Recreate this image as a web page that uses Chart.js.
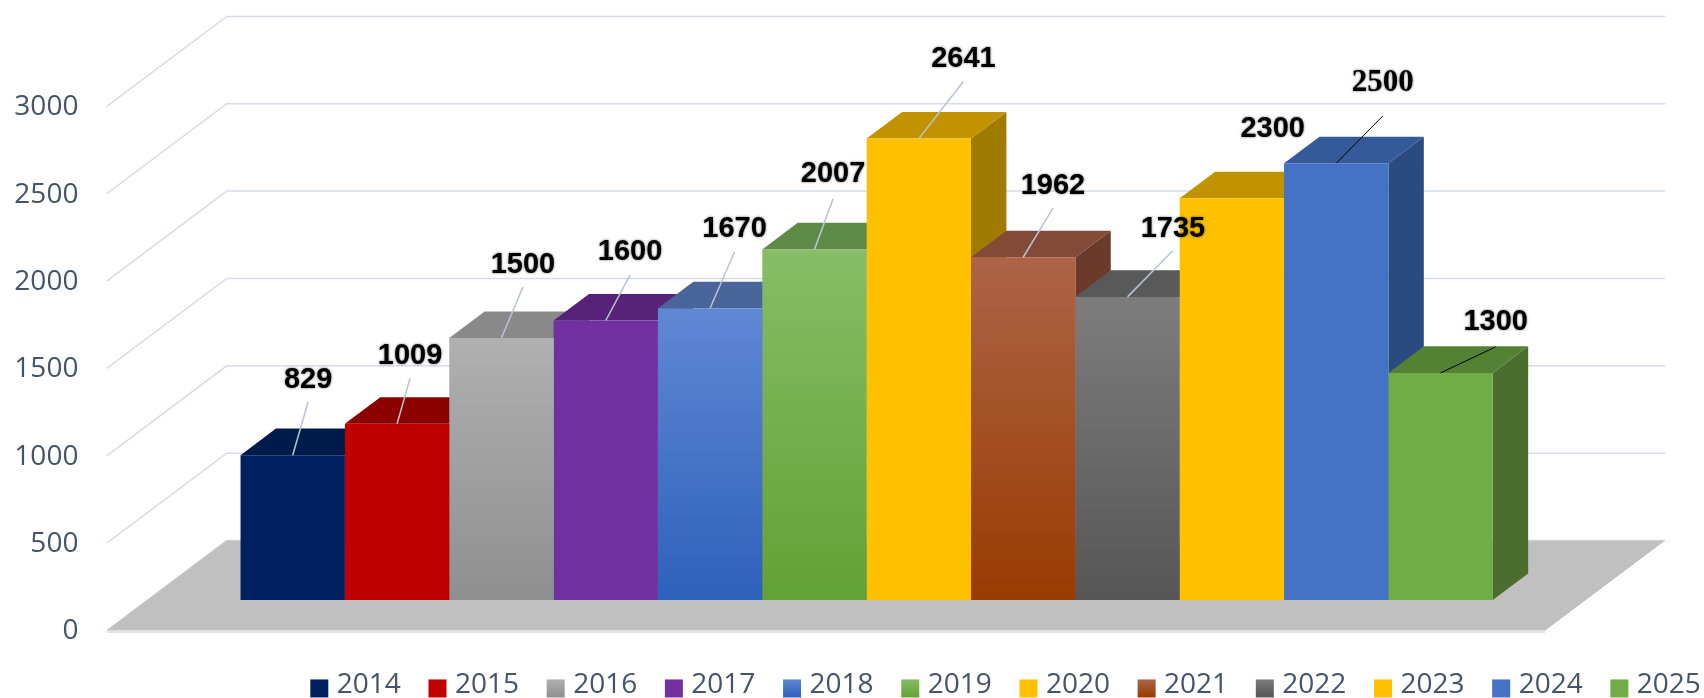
<!DOCTYPE html>
<html>
<head>
<meta charset="utf-8">
<script src="https://cdn.jsdelivr.net/npm/chart.js@4/dist/chart.umd.min.js"></script>
<style>
html,body{margin:0;padding:0;background:#ffffff;}
#wrap{width:1704px;height:698px;position:relative;}
</style>
</head>
<body>
<div id="wrap"><canvas id="c"></canvas></div>
<script>
// ---- data ----
const years  = ['2014','2015','2016','2017','2018','2019','2020','2021','2022','2023','2024','2025'];
const values = [829, 1009, 1500, 1600, 1670, 2007, 2641, 1962, 1735, 2300, 2500, 1300];
const yTicks = [0, 500, 1000, 1500, 2000, 2500, 3000];

// ---- styles ----
const frontTop    = ['#002060','#c00000','#b0b0b0','#7030a0','#5f88d4','#87bd67','#ffc000','#ae6447','#7d7d7d','#ffc000','#4472c4','#70ad47'];
const frontBottom = ['#002060','#c00000','#8f8f8f','#7030a0','#2e61ba','#61a233','#ffc000','#983c00','#565656','#ffc000','#4472c4','#70ad47'];
const topFace     = ['#001a4c','#8c0000','#898989','#572379','#4a6599','#5e8a47','#c29300','#834a38','#595959','#c29300','#355a9a','#548235'];
const sideFace    = ['#00153d','#760000','#777777','#4a1e67','#3d5585','#4e7a3a','#a07b00','#6b3a2a','#474747','#a07b00','#2b4a80','#4a6e2e'];

// label placement relative to top-front centre of each bar
const labelDX  = [15.4, 13, 21.5, 24.3, 24.5, 18.6, 44.6, 29.8, 45.4, 40.8, 46.5, 55.1];
const labelDY  = [-75.6, -67.8, -73, -68.4, -79.2, -75.5, -79.6, -71.4, -67.8, -69.5, -80.4, -51];
const leaderDY = [-53.5, -45.5, -50.8, -45.6, -56.7, -50.5, -57.1, -49.1, -46.3, null, -47.2, -26];
const leaderColor = ['#b8c4d4','#b8c4d4','#b8c4d4','#b8c4d4','#b8c4d4','#b8c4d4','#b8c4d4','#b8c4d4','#b8c4d4','#b8c4d4','#000000','#000000'];
const sansBold = 'bold 29px "Liberation Sans", Arial, sans-serif';
const serifBold = 'bold 31px "Liberation Serif", "Times New Roman", serif';
const labelFont = [sansBold,sansBold,sansBold,sansBold,sansBold,sansBold,sansBold,sansBold,sansBold,sansBold,serifBold,sansBold];

const AXIS_COLOR = '#44546a';
const GRID_COLOR = '#d6dce5';
const FLOOR_COLOR = '#c0c0c0';
const FLOOR_DX = 120, FLOOR_DY = -90;   // floor depth vector
const BAR_FRONT = 0.339;                 // bar front plane (fraction of floor depth)
const BAR_DEPTH = 0.295;                 // bar depth (fraction of floor depth)

function poly(ctx, pts) {
  ctx.beginPath();
  ctx.moveTo(pts[0][0], pts[0][1]);
  for (let k = 1; k < pts.length; k++) ctx.lineTo(pts[k][0], pts[k][1]);
  ctx.closePath();
  ctx.fill();
}

const threeD = {
  id: 'threeD',
  beforeDatasetsDraw(chart) {
    const {ctx, chartArea: ca, scales: {y}} = chart;
    const offX = FLOOR_DX * BAR_FRONT, offY = FLOOR_DY * BAR_FRONT;
    const fx = ca.left - offX;
    const fw = ca.right - ca.left;
    ctx.save();
    // wall gridlines
    ctx.strokeStyle = GRID_COLOR;
    ctx.lineWidth = 1.5;
    y.ticks.forEach(t => {
      const fy = y.getPixelForValue(t.value) - offY;
      ctx.beginPath();
      ctx.moveTo(fx, fy);
      ctx.lineTo(fx + FLOOR_DX, fy + FLOOR_DY);
      ctx.lineTo(fx + FLOOR_DX + fw, fy + FLOOR_DY);
      ctx.stroke();
    });
    // floor
    const f0 = y.getPixelForValue(0) - offY;
    ctx.fillStyle = FLOOR_COLOR;
    poly(ctx, [[fx, f0], [fx + fw, f0], [fx + fw + FLOOR_DX, f0 + FLOOR_DY], [fx + FLOOR_DX, f0 + FLOOR_DY]]);
    ctx.strokeStyle = '#dfe3ea';
    ctx.lineWidth = 2;
    ctx.beginPath();
    ctx.moveTo(fx, f0 + 1.5);
    ctx.lineTo(fx + fw, f0 + 1.5);
    ctx.stroke();
    // bar sides and tops
    const bdx = FLOOR_DX * BAR_DEPTH, bdy = FLOOR_DY * BAR_DEPTH;
    chart.data.datasets.forEach((ds, i) => {
      const el = chart.getDatasetMeta(i).data[0];
      if (!el) return;
      const p = el.getProps(['x', 'y', 'base', 'width'], true);
      const l = p.x - p.width / 2, r = p.x + p.width / 2;
      ctx.fillStyle = sideFace[i];
      poly(ctx, [[r, p.y], [r + bdx, p.y + bdy], [r + bdx, p.base + bdy], [r, p.base]]);
      ctx.fillStyle = topFace[i];
      poly(ctx, [[l, p.y], [r, p.y], [r + bdx, p.y + bdy], [l + bdx, p.y + bdy]]);
    });
    ctx.restore();
  },
  afterDatasetsDraw(chart) {
    const {ctx} = chart;
    ctx.save();
    chart.data.datasets.forEach((ds, i) => {
      const el = chart.getDatasetMeta(i).data[0];
      if (!el) return;
      const p = el.getProps(['x', 'y'], true);
      if (leaderDY[i] !== null) {
        ctx.strokeStyle = leaderColor[i];
        ctx.lineWidth = leaderColor[i] === '#000000' ? 1 : 1.5;
        ctx.beginPath();
        ctx.moveTo(p.x + labelDX[i], p.y + leaderDY[i]);
        ctx.lineTo(p.x, p.y);
        ctx.stroke();
      }
      ctx.font = labelFont[i];
      ctx.textAlign = 'center';
      ctx.textBaseline = 'middle';
      ctx.shadowColor = 'rgba(0,0,0,0.6)';
      ctx.shadowBlur = 2.5;
      ctx.fillStyle = '#000000';
      ctx.fillText(String(ds.data[0]), p.x + labelDX[i], p.y + labelDY[i]);
      ctx.shadowBlur = 0;
      ctx.shadowColor = 'rgba(0,0,0,0)';
    });
    ctx.restore();
  }
};

function legendIcon(i) {
  const cv = document.createElement('canvas');
  cv.width = 40; cv.height = 40;
  const g = cv.getContext('2d');
  const gr = g.createLinearGradient(0, 14, 0, 32);
  gr.addColorStop(0, frontTop[i]);
  gr.addColorStop(1, frontBottom[i]);
  g.fillStyle = gr;
  g.fillRect(8, 14, 18, 18);
  return cv;
}
const icons = years.map((_, i) => legendIcon(i));

function frontFill(c) {
  const i = c.datasetIndex;
  const ch = c.chart;
  if (!ch.chartArea || c.raw === undefined || c.raw === null) return frontTop[i];
  const ys = ch.scales.y;
  const g = ch.ctx.createLinearGradient(0, ys.getPixelForValue(c.raw), 0, ys.getPixelForValue(0));
  g.addColorStop(0, frontTop[i]);
  g.addColorStop(1, frontBottom[i]);
  return g;
}

function build() {
  new Chart(document.getElementById('c'), {
    type: 'bar',
    data: {
      labels: [''],
      datasets: years.map((yr, i) => ({
        label: yr,
        data: [values[i]],
        backgroundColor: frontFill,
        borderWidth: 0
      }))
    },
    options: {
      responsive: true,
      maintainAspectRatio: false,
      animation: false,
      devicePixelRatio: 1,
      datasets: { bar: { categoryPercentage: 0.8705, barPercentage: 1 } },
      layout: { padding: { top: 75.9, left: 0, right: -318.65, bottom: -11.4 } },
      scales: {
        x: {
          type: 'category',
          display: true,
          grid: { display: false, drawTicks: false },
          border: { display: false },
          ticks: { display: false },
          afterFit: s => { s.height = 32.25; s.paddingLeft = 0; s.paddingRight = 0; }
        },
        y: {
          type: 'linear',
          position: 'left',
          min: yTicks[0],
          max: yTicks[yTicks.length - 1],
          afterBuildTicks: s => { s.ticks = yTicks.map(v => ({ value: v })); },
          afterFit: s => { s.width = 147.4; s.paddingTop = 0; s.paddingBottom = 0; },
          grid: { display: false, drawTicks: false },
          border: { display: false },
          ticks: {
            autoSkip: false,
            color: AXIS_COLOR,
            font: { family: '"Open Sans", sans-serif', size: 28 },
            padding: 69,
            labelOffset: 31.5,
            callback: v => String(v)
          }
        },
        yR: {
          type: 'linear',
          position: 'right',
          min: yTicks[0],
          max: yTicks[yTicks.length - 1],
          grid: { display: false, drawTicks: false },
          border: { display: false },
          ticks: { display: false },
          afterFit: s => { s.width = 436.75; s.paddingTop = 0; s.paddingBottom = 0; }
        }
      },
      plugins: {
        tooltip: { enabled: false },
        legend: {
          position: 'bottom',
          align: 'center',
          labels: {
            usePointStyle: true,
            pointStyleWidth: 1,
            padding: 39.15,
            color: AXIS_COLOR,
            font: { family: '"Open Sans", sans-serif', size: 28 },
            generateLabels: chart => chart.data.datasets.map((ds, i) => ({
              text: ds.label,
              pointStyle: icons[i],
              fillStyle: frontTop[i],
              strokeStyle: 'rgba(0,0,0,0)',
              lineWidth: 0,
              fontColor: AXIS_COLOR,
              hidden: !chart.isDatasetVisible(i),
              datasetIndex: i
            }))
          }
        }
      }
    },
    plugins: [threeD]
  });
}

if (document.fonts && document.fonts.load) {
  Promise.all([
    document.fonts.load('28px "Open Sans"'),
    document.fonts.load('bold 29px "Liberation Sans"'),
    document.fonts.load('bold 31px "Liberation Serif"')
  ]).then(build, build);
} else {
  build();
}
</script>
</body>
</html>
